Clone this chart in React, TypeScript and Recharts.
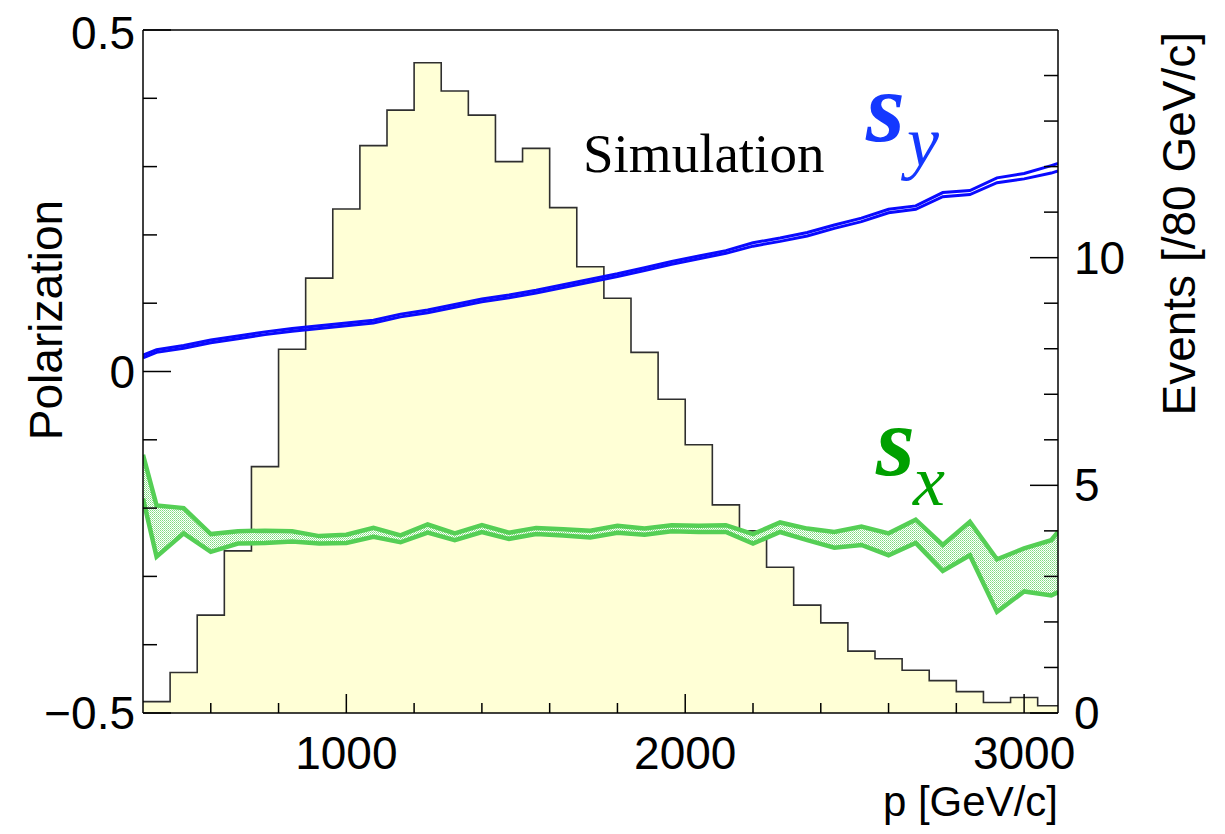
import React from 'react';
import { ComposedChart, Area, Line, XAxis, YAxis, ReferenceLine } from 'recharts';

// histogram: events per 80 GeV/c bin (left bin edges, last edge closes the histogram)
const histEdges = [400, 480, 560, 640, 720, 800, 880, 960, 1040, 1120, 1200, 1280, 1360, 1440, 1520, 1600, 1680, 1760, 1840, 1920, 2000, 2080, 2160, 2240, 2320, 2400, 2480, 2560, 2640, 2720, 2800, 2880, 2960, 3040, 3120];
const histEvents = [0.25, 0.89, 2.15, 3.56, 5.41, 7.99, 9.55, 11.07, 12.46, 13.24, 14.28, 13.66, 13.13, 12.11, 12.4, 11.1, 9.8, 9.11, 7.92, 6.89, 5.89, 4.57, 4.0, 3.2, 2.37, 1.98, 1.36, 1.19, 0.94, 0.71, 0.47, 0.23, 0.34, 0.16, 0];

// polarization bands (momentum points)
const polP = [400, 440, 520, 600, 680, 760, 840, 920, 1000, 1080, 1160, 1240, 1320, 1400, 1480, 1560, 1640, 1720, 1800, 1880, 1960, 2040, 2120, 2200, 2280, 2360, 2440, 2520, 2600, 2680, 2760, 2840, 2920, 3000, 3080, 3100];
const syHigh = [0.024, 0.032, 0.038, 0.046, 0.052, 0.058, 0.063, 0.067, 0.071, 0.075, 0.084, 0.09, 0.098, 0.106, 0.112, 0.119, 0.127, 0.135, 0.143, 0.152, 0.161, 0.169, 0.177, 0.1885, 0.1955, 0.2035, 0.2145, 0.2245, 0.2375, 0.2425, 0.262, 0.265, 0.2835, 0.29, 0.3015, 0.3045];
const syLow = [0.02, 0.028, 0.034, 0.042, 0.048, 0.054, 0.059, 0.063, 0.067, 0.071, 0.08, 0.086, 0.094, 0.102, 0.108, 0.115, 0.123, 0.131, 0.139, 0.148, 0.157, 0.165, 0.173, 0.1835, 0.1905, 0.1985, 0.2095, 0.2195, 0.2325, 0.2375, 0.256, 0.259, 0.2765, 0.282, 0.2905, 0.2935];
const sxHigh = [-0.122, -0.196, -0.2, -0.238, -0.234, -0.233, -0.234, -0.241, -0.239, -0.229, -0.24, -0.224, -0.237, -0.225, -0.236, -0.229, -0.231, -0.233, -0.226, -0.23, -0.225, -0.226, -0.225, -0.238, -0.221, -0.23, -0.235, -0.227, -0.237, -0.217, -0.254, -0.22, -0.275, -0.259, -0.247, -0.235];
const sxLow = [-0.186, -0.271, -0.237, -0.264, -0.252, -0.251, -0.249, -0.252, -0.251, -0.242, -0.25, -0.236, -0.247, -0.235, -0.245, -0.238, -0.24, -0.243, -0.236, -0.239, -0.234, -0.235, -0.235, -0.252, -0.235, -0.247, -0.258, -0.254, -0.269, -0.251, -0.292, -0.269, -0.352, -0.322, -0.328, -0.323];

const pTicks = [600, 800, 1000, 1200, 1400, 1600, 1800, 2000, 2200, 2400, 2600, 2800, 3000];
const polTicks = [-0.5, -0.4, -0.3, -0.2, -0.1, 0, 0.1, 0.2, 0.3, 0.4, 0.5];
const eventTicks = [0, 1, 2, 3, 4, 5, 6, 7, 8, 9, 10, 11, 12, 13, 14];

const SANS = '"Liberation Sans", Arial, Helvetica, sans-serif';
const SERIF = '"Liberation Serif", "Times New Roman", serif';
const FS = 46;

type Row = { x: number; hist?: number; syHi?: number; syLo?: number; sxHi?: number; sxLo?: number };

const rowMap = new Map<number, Row>();
histEdges.forEach((x, i) => {
  rowMap.set(x, { ...(rowMap.get(x) || { x }), hist: histEvents[i] });
});
polP.forEach((x, i) => {
  rowMap.set(x, { ...(rowMap.get(x) || { x }), syHi: syHigh[i], syLo: syLow[i], sxHi: sxHigh[i], sxLo: sxLow[i] });
});
const data = Array.from(rowMap.values()).sort((a, b) => a.x - b.x);

const LeftTick = (props: any) => {
  const { x, y, payload } = props;
  const v = payload.value;
  const ax = x + 8;
  const major = Math.abs(v * 2 - Math.round(v * 2)) < 1e-6;
  const label = v === 0 ? '0' : v > 0 ? String(v) : '\u2212' + String(-v);
  return (
    <g>
      <line x1={ax} x2={ax + (major ? 28 : 14)} y1={y} y2={y} stroke="#000" strokeWidth={1.5} />
      {major && (
        <text x={x} y={v > 0.4 ? y + 3 : y} textAnchor="end" dominantBaseline="central" fontFamily={SANS} fontSize={FS} fill="#000">
          {label}
        </text>
      )}
    </g>
  );
};

const RightTick = (props: any) => {
  const { x, y, payload } = props;
  const v = payload.value;
  const ax = x - 16;
  const major = v % 5 === 0;
  return (
    <g>
      <line x1={ax} x2={ax - (major ? 28 : 14)} y1={y} y2={y} stroke="#000" strokeWidth={1.5} />
      {major && (
        <text x={x} y={y} textAnchor="start" dominantBaseline="central" fontFamily={SANS} fontSize={FS} fill="#000">
          {v}
        </text>
      )}
    </g>
  );
};

const BottomTick = (props: any) => {
  const { x, y, payload } = props;
  const v = payload.value;
  const ay = y - 10;
  const major = v % 1000 === 0;
  return (
    <g>
      <line x1={x} x2={x} y1={ay} y2={ay - (major ? 19 : 10)} stroke="#000" strokeWidth={1.5} />
      {major && (
        <text x={x} y={ay + 56} textAnchor="middle" fontFamily={SANS} fontSize={FS} fill="#000">
          {v}
        </text>
      )}
    </g>
  );
};

export default function App() {
  return (
    <div style={{ width: 1209, height: 818, background: '#fff' }}>
      <ComposedChart
        width={1209}
        height={818}
        data={data}
        margin={{ top: 22, right: 59, bottom: 53, left: 35 }}
      >
        <defs>
          <pattern id="sxDots" width="2" height="2" patternUnits="userSpaceOnUse">
            <rect width="2" height="2" fill="#ffffff" />
            <rect width="1" height="1" fill="#7edb7e" />
            <rect x="1" y="1" width="1" height="1" fill="#a8e8a8" />
          </pattern>
        </defs>
        <XAxis
          dataKey="x"
          type="number"
          domain={[400, 3100]}
          allowDataOverflow
          ticks={pTicks}
          interval={0}
          height={60}
          tickSize={0}
          tickMargin={10}
          tickLine={false}
          axisLine={{ stroke: '#000', strokeWidth: 1.5 }}
          tick={(p: any) => <BottomTick {...p} />}
        />
        <YAxis
          yAxisId="left"
          type="number"
          domain={[-0.5, 0.5]}
          allowDataOverflow
          ticks={polTicks}
          interval={0}
          width={100}
          tickSize={0}
          tickMargin={8}
          tickLine={false}
          axisLine={{ stroke: '#000', strokeWidth: 1.5 }}
          tick={(p: any) => <LeftTick {...p} />}
        />
        <YAxis
          yAxisId="right"
          orientation="right"
          type="number"
          domain={[0, 15]}
          allowDataOverflow
          ticks={eventTicks}
          interval={0}
          width={100}
          tickSize={0}
          tickMargin={16}
          tickLine={false}
          axisLine={{ stroke: '#000', strokeWidth: 1.5 }}
          tick={(p: any) => <RightTick {...p} />}
        />
        <Area
          yAxisId="right"
          dataKey="hist"
          type="stepAfter"
          connectNulls
          fill="#ffffd6"
          fillOpacity={1}
          stroke="#2f2f2f"
          strokeWidth={1.6}
          dot={false}
          activeDot={false}
          isAnimationActive={false}
        />
        <Area
          yAxisId="left"
          dataKey={(d: Row) => (d.sxLo == null ? [null, null] : [d.sxLo, d.sxHi])}
          type="linear"
          connectNulls
          fill="url(#sxDots)"
          fillOpacity={1}
          stroke="none"
          dot={false}
          activeDot={false}
          isAnimationActive={false}
        />
        <Line yAxisId="left" dataKey="sxHi" type="linear" connectNulls stroke="#55cf55" strokeWidth={4.5} dot={false} activeDot={false} isAnimationActive={false} />
        <Line yAxisId="left" dataKey="sxLo" type="linear" connectNulls stroke="#55cf55" strokeWidth={4.5} dot={false} activeDot={false} isAnimationActive={false} />
        <Line yAxisId="left" dataKey="syHi" type="linear" connectNulls stroke="#0a0aff" strokeWidth={3} dot={false} activeDot={false} isAnimationActive={false} />
        <Line yAxisId="left" dataKey="syLo" type="linear" connectNulls stroke="#0a0aff" strokeWidth={3} dot={false} activeDot={false} isAnimationActive={false} />
        <ReferenceLine yAxisId="left" y={0.5} stroke="#000" strokeWidth={1.5} />

        <text x={54} y={312} transform="rotate(-90 54 312)" textAnchor="middle" fontFamily={SANS} fontSize={FS} fill="#000">
          Polarization
        </text>
        <text x={1187} y={24} transform="rotate(-90 1187 24)" textAnchor="end" fontFamily={SANS} fontSize={FS} fill="#000">
          Events [/80 GeV/c]
        </text>
        <text x={1050} y={808} textAnchor="end" fontFamily={SANS} fontSize={42} fill="#000">
          p [GeV/c]
        </text>
        <text x={575} y={164} fontFamily={SERIF} fontSize={55} fill="#000">
          Simulation
        </text>
        <text x={858} y={133} fontFamily={SERIF} fontSize={100} fontWeight="bold" fontStyle="italic" fill="#1438ff">
          s
        </text>
        <text x={899} y={158} fontFamily={SERIF} fontSize={72} fontStyle="italic" fill="#1438ff">
          y
        </text>
        <text x={868} y={467} fontFamily={SERIF} fontSize={100} fontWeight="bold" fontStyle="italic" fill="#00a000">
          s
        </text>
        <text x={905} y={497} fontFamily={SERIF} fontSize={72} fontStyle="italic" fill="#00a000">
          x
        </text>
      </ComposedChart>
    </div>
  );
}
